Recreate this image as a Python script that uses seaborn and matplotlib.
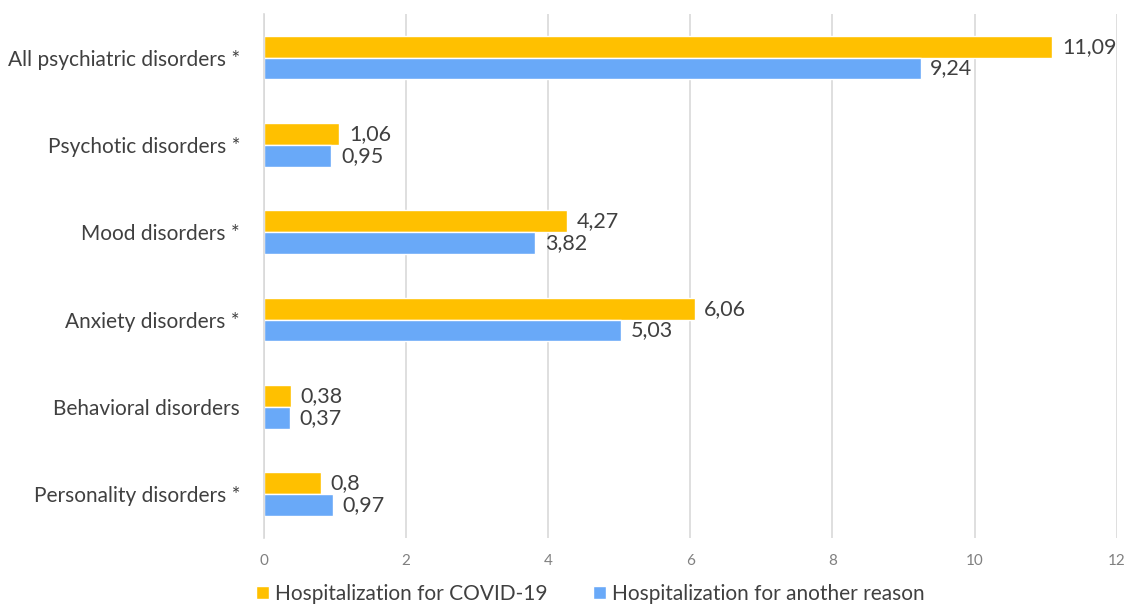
import pandas as pd
import matplotlib.pyplot as plt
import seaborn as sns

# data
categories = ["All psychiatric disorders *", "Psychotic disorders *", "Mood disorders *",
              "Anxiety disorders *", "Behavioral disorders", "Personality disorders *"]
covid = [11.09, 1.06, 4.27, 6.06, 0.38, 0.8]
other = [9.24, 0.95, 3.82, 5.03, 0.37, 0.97]
series = ["Hospitalization for COVID-19", "Hospitalization for another reason"]

df = pd.DataFrame({
    "category": categories * 2,
    "value": covid + other,
    "series": [series[0]] * len(categories) + [series[1]] * len(categories),
})

sns.set_style("white")
plt.rcParams["font.family"] = ["Lato", "DejaVu Sans"]

fig = plt.figure(figsize=(11.27, 6.07), dpi=100)
ax = fig.add_axes([0.234, 0.114, 0.757, 0.863])

sns.barplot(data=df, y="category", x="value", hue="series", orient="h",
            palette=["#FFC000", "#69A9F8"], width=0.5, saturation=1,
            ax=ax, legend=True)

for cont in ax.containers:
    labs = [str(b.get_width()).replace(".", ",") for b in cont]
    ax.bar_label(cont, labels=labs, padding=7, fontsize=15.5, color="#404040")

ax.set_xlim(0, 12)
ax.set_xticks(range(0, 13, 2))
ax.grid(axis="x", color="#D9D9D9", linewidth=1.2)
ax.set_axisbelow(True)
for s in ["top", "right", "bottom"]:
    ax.spines[s].set_visible(False)
ax.spines["left"].set_color("#D9D9D9")
ax.spines["left"].set_linewidth(1.2)
ax.tick_params(axis="y", labelsize=15, labelcolor="#404040", length=0, pad=17)
ax.tick_params(axis="x", labelsize=11, labelcolor="#808080", length=0, pad=12)
ax.set_xlabel("")
ax.set_ylabel("")

ax.legend(loc="center left", bbox_to_anchor=(0.218, 0.022), bbox_transform=fig.transFigure,
          ncol=2, frameon=False, fontsize=15, handlelength=0.6, handleheight=0.6,
          handletextpad=0.3, columnspacing=2.2, borderpad=0, labelcolor="#404040")

fig.savefig("out.png", dpi=100)
